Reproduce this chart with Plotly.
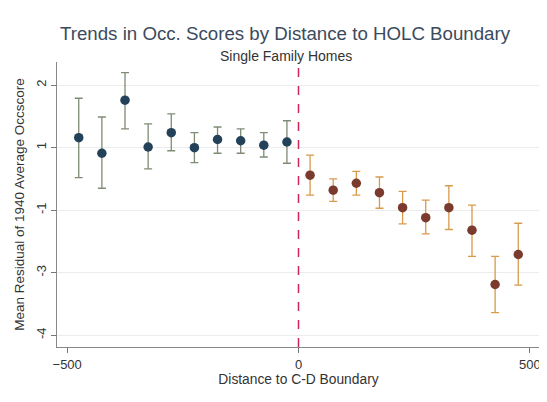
import plotly.graph_objects as go

# Bin centers (distance to C-D boundary)
x_left = [-475, -425, -375, -325, -275, -225, -175, -125, -75, -25]
x_right = [25, 75, 125, 175, 225, 275, 325, 375, 425, 475]

# Mean residuals and confidence bounds (axis units)
y_left = [1.16, 0.91, 1.76, 1.01, 1.24, 1.00, 1.13, 1.11, 1.04, 1.09]
hi_left = [1.79, 1.49, 2.20, 1.38, 1.54, 1.24, 1.33, 1.30, 1.24, 1.43]
lo_left = [0.52, 0.35, 1.30, 0.66, 0.95, 0.76, 0.91, 0.91, 0.85, 0.75]

y_right = [0.56, 0.32, 0.43, 0.28, 0.04, -0.12, 0.04, -0.32, -1.19, -0.71]
hi_right = [0.88, 0.50, 0.62, 0.53, 0.30, 0.16, 0.39, 0.08, -0.74, -0.21]
lo_right = [0.24, 0.14, 0.24, 0.03, -0.22, -0.38, -0.31, -0.74, -1.64, -1.20]

# Axis ticks
x_ticks = [-500, 0, 500]
y_tickvals = [2, 1, 0, -1, -2]
y_ticktext = ["2", "1", "-1", "-3", "-4"]

FONT = "Liberation Sans, Arial, sans-serif"

fig = go.Figure()

fig.add_trace(go.Scatter(
    x=x_left, y=y_left, mode="markers",
    marker=dict(color="#23425a", size=9.5),
    error_y=dict(type="data", symmetric=False,
                 array=[h - y for h, y in zip(hi_left, y_left)],
                 arrayminus=[y - l for l, y in zip(lo_left, y_left)],
                 color="#7f8c74", thickness=1.3, width=4),
    showlegend=False,
))

fig.add_trace(go.Scatter(
    x=x_right, y=y_right, mode="markers",
    marker=dict(color="#7a3b2e", size=9.5),
    error_y=dict(type="data", symmetric=False,
                 array=[h - y for h, y in zip(hi_right, y_right)],
                 arrayminus=[y - l for l, y in zip(lo_right, y_right)],
                 color="#d99a4c", thickness=1.3, width=4),
    showlegend=False,
))

fig.add_shape(type="line", xref="x", yref="paper", x0=0, x1=0, y0=0, y1=1,
              line=dict(color="#d0245a", width=1.5, dash="dash"))

fig.update_layout(
    width=539, height=394,
    margin=dict(l=49, r=7, t=54, b=55),
    paper_bgcolor="white", plot_bgcolor="white",
    font=dict(family=FONT, color="#333333", size=12),
    annotations=[
        dict(text="Trends in Occ. Scores by Distance to HOLC Boundary",
             xref="paper", yref="paper", x=0.474, y=1.0, yshift=29,
             xanchor="center", yanchor="middle", showarrow=False,
             font=dict(size=18.7, color="#3b4a5c", family=FONT)),
        dict(text="Single Family Homes", xref="paper", yref="paper",
             x=0.474, y=1.0, yshift=6, xanchor="center", yanchor="middle",
             showarrow=False, font=dict(size=14, color="#333333", family=FONT)),
    ],
    xaxis=dict(range=[-522, 522], tickvals=x_ticks, ticks="outside", ticklen=5,
               tickcolor="#777777", showline=True, linecolor="#888888", linewidth=1.2,
               showgrid=False, zeroline=False, automargin=False,
               title=dict(text="Distance to C-D Boundary", standoff=2,
                          font=dict(size=13.8, color="#333333")),
               tickfont=dict(size=13, color="#333333")),
    yaxis=dict(range=[-2.19, 2.37], tickvals=y_tickvals, ticktext=y_ticktext,
               ticks="outside", ticklen=5, tickcolor="#777777", tickangle=-90,
               showline=True, linecolor="#888888", linewidth=1.2,
               showgrid=True, gridcolor="#ececec", gridwidth=1, zeroline=False,
               automargin=False,
               title=dict(text="Mean Residual of 1940 Average Occscore", standoff=5,
                          font=dict(size=13.5, color="#333333")),
               tickfont=dict(size=13, color="#333333")),
)

fig.write_html("out.html")
